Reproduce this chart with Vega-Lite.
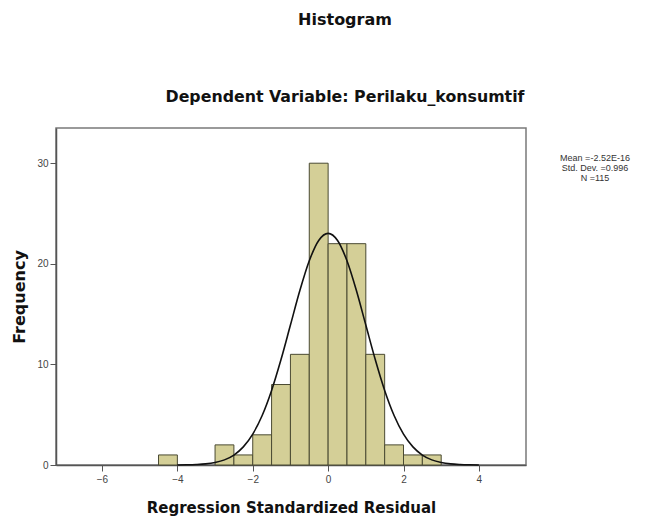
{
  "$schema": "https://vega.github.io/schema/vega-lite/v6.json",
  "autosize": "none",
  "width": 470,
  "height": 337,
  "padding": {"left": 56, "top": 128, "right": 134, "bottom": 57},
  "background": "white",
  "datasets": {
    "bars": [
      {"bin_start": -4.5, "bin_end": -4.0, "count": 1},
      {"bin_start": -3.0, "bin_end": -2.5, "count": 2},
      {"bin_start": -2.5, "bin_end": -2.0, "count": 1},
      {"bin_start": -2.0, "bin_end": -1.5, "count": 3},
      {"bin_start": -1.5, "bin_end": -1.0, "count": 8},
      {"bin_start": -1.0, "bin_end": -0.5, "count": 11},
      {"bin_start": -0.5, "bin_end": 0.0, "count": 30},
      {"bin_start": 0.0, "bin_end": 0.5, "count": 22},
      {"bin_start": 0.5, "bin_end": 1.0, "count": 22},
      {"bin_start": 1.0, "bin_end": 1.5, "count": 11},
      {"bin_start": 1.5, "bin_end": 2.0, "count": 2},
      {"bin_start": 2.0, "bin_end": 2.5, "count": 1},
      {"bin_start": 2.5, "bin_end": 3.0, "count": 1}
    ],
    "curve": [
      {"x": -4.0, "y": 0.007}, {"x": -3.75, "y": 0.019}, {"x": -3.5, "y": 0.048},
      {"x": -3.25, "y": 0.11}, {"x": -3.0, "y": 0.25}, {"x": -2.75, "y": 0.51},
      {"x": -2.5, "y": 0.99}, {"x": -2.25, "y": 1.80}, {"x": -2.0, "y": 3.07},
      {"x": -1.75, "y": 4.92}, {"x": -1.5, "y": 7.41}, {"x": -1.25, "y": 10.48},
      {"x": -1.0, "y": 13.91}, {"x": -0.75, "y": 17.34}, {"x": -0.5, "y": 20.30},
      {"x": -0.25, "y": 22.32}, {"x": 0.0, "y": 23.03}, {"x": 0.25, "y": 22.32},
      {"x": 0.5, "y": 20.30}, {"x": 0.75, "y": 17.34}, {"x": 1.0, "y": 13.91},
      {"x": 1.25, "y": 10.48}, {"x": 1.5, "y": 7.41}, {"x": 1.75, "y": 4.92},
      {"x": 2.0, "y": 3.07}, {"x": 2.25, "y": 1.80}, {"x": 2.5, "y": 0.99},
      {"x": 2.75, "y": 0.51}, {"x": 3.0, "y": 0.25}, {"x": 3.25, "y": 0.11},
      {"x": 3.5, "y": 0.048}, {"x": 3.75, "y": 0.019}, {"x": 4.0, "y": 0.007}
    ],
    "stats": [
      {"stat": "Mean =-2.52E-16"},
      {"stat": "Std. Dev. =0.996"},
      {"stat": "N =115"}
    ]
  },
  "title": {
    "text": "Histogram",
    "subtitle": "Dependent Variable: Perilaku_konsumtif",
    "anchor": "middle",
    "frame": "group",
    "dx": 54,
    "offset": 23,
    "font": "DejaVu Sans",
    "fontSize": 16,
    "fontWeight": "bold",
    "color": "#111",
    "subtitleFont": "DejaVu Sans",
    "subtitleFontSize": 15.8,
    "subtitleFontWeight": "bold",
    "subtitleColor": "#111",
    "subtitlePadding": 62
  },
  "config": {
    "view": {"fill": "#f0f0f0", "stroke": "#7a7a7a", "strokeWidth": 1.5},
    "axis": {
      "grid": false,
      "domainColor": "#555",
      "domainWidth": 1.5,
      "tickColor": "#555",
      "tickSize": 6,
      "labelFont": "Liberation Sans",
      "labelFontSize": 10,
      "labelColor": "#444",
      "titleFont": "DejaVu Sans",
      "titleFontSize": 16,
      "titleFontWeight": "bold",
      "titleColor": "#111"
    }
  },
  "layer": [
    {
      "data": {"name": "bars"},
      "mark": {"type": "rect", "fill": "#d4cf97", "stroke": "#4a4a32", "strokeWidth": 1},
      "encoding": {
        "x": {
          "field": "bin_start", "type": "quantitative",
          "scale": {"domain": [-7.22, 5.25], "nice": false, "zero": false},
          "axis": {"values": [-6, -4, -2, 0, 2, 4], "title": "Regression Standardized Residual", "titleFontSize": 15, "labelPadding": 3, "titlePadding": 16}
        },
        "x2": {"field": "bin_end"},
        "y": {
          "field": "count", "type": "quantitative",
          "scale": {"domain": [0, 33.5], "nice": false},
          "axis": {"values": [0, 10, 20, 30], "title": "Frequency", "labelPadding": 2, "titlePadding": 9}
        },
        "y2": {"datum": 0}
      }
    },
    {
      "data": {"name": "curve"},
      "mark": {"type": "line", "color": "#111", "strokeWidth": 1.6, "interpolate": "monotone"},
      "encoding": {
        "x": {"field": "x", "type": "quantitative"},
        "y": {"field": "y", "type": "quantitative"}
      }
    },
    {
      "data": {"name": "stats"},
      "mark": {"type": "point", "opacity": 0},
      "encoding": {
        "shape": {
          "field": "stat", "type": "nominal",
          "scale": {"domain": ["Mean =-2.52E-16", "Std. Dev. =0.996", "N =115"]},
          "legend": {
            "title": null,
            "orient": "none",
            "legendX": 530,
            "legendY": 25,
            "padding": 0,
            "symbolSize": 0,
            "symbolOpacity": 0,
            "symbolStrokeWidth": 0,
            "labelOffset": 0,
            "labelAlign": "center",
            "labelFont": "Liberation Sans",
            "labelFontSize": 9,
            "labelColor": "#333",
            "rowPadding": -3
          }
        }
      }
    }
  ]
}
